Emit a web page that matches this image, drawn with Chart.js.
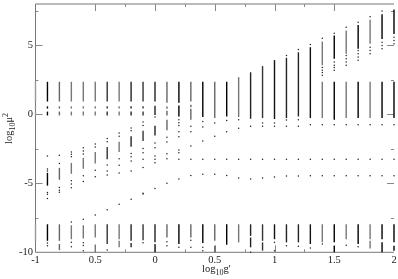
<!DOCTYPE html>
<html>
<head>
<meta charset="utf-8">
<script src="https://cdn.jsdelivr.net/npm/chart.js@4"></script>
<style>
  html, body { margin: 0; padding: 0; background: #fff; }
  canvas { display: block; }
</style>
</head>
<body>
<canvas id="massChart" width="398" height="279"></canvas>
<script>
// log10 g' of each column
const columnX = [-1, -0.9, -0.8, -0.7, -0.6, -0.5, -0.4, -0.3, -0.2, -0.1, 0, 0.1, 0.2, 0.3, 0.4, 0.5,
  0.6, 0.7, 0.8, 0.9, 1, 1.1, 1.2, 1.3, 1.4, 1.5, 1.6, 1.7, 1.8, 1.9, 2];

// solid stretches in each column, [low, high] in log10 mu^2
const bands = [
  [[0.93, 2.36], [0.42, 0.58], [-0.08, 0.2], [-9.17, -7.97]],
  [[0.93, 2.36], [0.42, 0.58], [-0.08, 0.2], [-5.17, -4.24], [-9.17, -7.97]],
  [[0.93, 2.36], [0.42, 0.58], [-0.08, 0.2], [-4.74, -3.88], [-9.17, -7.97], [-9.84, -9.4]],
  [[0.93, 2.36], [0.42, 0.58], [-0.08, 0.2], [-4.31, -3.52], [-9.05, -8.04]],
  [[0.93, 2.36], [0.42, 0.58], [-0.08, 0.2], [-3.95, -3.16], [-9.0, -8.04]],
  [[0.93, 2.36], [0.42, 0.58], [-0.08, 0.2], [-3.57, -2.73], [-8.93, -7.97], [-10, -9.43]],
  [[0.93, 2.36], [0.42, 0.58], [-0.08, 0.2], [-3.26, -2.37], [-9.4, -7.97]],
  [[0.93, 2.36], [0.42, 0.58], [-0.08, 0.2], [-2.73, -1.99], [-9.05, -7.97], [-9.64, -9.17]],
  [[0.93, 2.36], [0.42, 0.58], [-0.08, 0.2], [-2.35, -1.59], [-9.17, -7.97], [-9.64, -9.33]],
  [[0.93, 2.36], [0.42, 0.58], [-0.08, 0.2], [-1.94, -1.18], [-9.12, -7.97]],
  [[0.93, 2.36], [-0.05, 0.62], [-1.53, -0.82], [-9.28, -7.97], [-10, -9.4]],
  [[0.85, 2.36], [0.4, 0.57], [-0.08, 0.26], [-1.15, -0.39], [-8.93, -7.97]],
  [[0.85, 2.36], [-0.15, 0.64], [-9.4, -7.97]],
  [[0.93, 2.36], [0.52, 0.69], [-0.39, 0.4], [-8.93, -7.97]],
  [[-0.2, 2.36], [-9.33, -7.97]],
  [[-0.27, 2.36], [-9.17, -7.97], [-10, -9.52]],
  [[-0.15, 2.36], [-9.45, -7.97]],
  [[-0.2, 2.7], [-9.28, -7.97]],
  [[-0.32, 3.05], [-8.81, -7.97], [-9.64, -8.93]],
  [[-0.27, 3.5], [-9.17, -7.97], [-9.88, -9.28]],
  [[-0.34, 3.89], [-9.05, -7.97]],
  [[-0.27, 4.1], [-9.28, -7.97]],
  [[-0.15, 4.5], [-9.28, -7.97]],
  [[-0.27, 4.87], [-9.4, -7.97]],
  [[3.56, 5.28], [-0.27, 2.36], [-9.28, -7.97]],
  [[4.04, 5.71], [-0.39, 2.36], [-9.28, -7.97], [-10, -9.52]],
  [[4.39, 6.07], [-0.27, 2.36], [-9.05, -7.97]],
  [[4.75, 6.47], [-0.27, 2.36], [-9.4, -7.97]],
  [[5.11, 6.86], [-0.27, 2.36], [-9.05, -7.97], [-9.72, -9.17]],
  [[5.47, 7.26], [-0.27, 2.36], [-9.05, -7.97], [-10, -9.28]],
  [[5.83, 7.6], [-0.27, 2.36], [-9.28, -7.97], [-9.88, -9.52]]
];

// isolated points in each column
const dots = [
  [],
  [-3.02, -3.97, -4.1, -5.67, -5.8, -6.1, -9.33, -9.52],
  [-2.97, -3.57, -5.3, -5.5, -5.65],
  [-2.73, -2.9, -3.07, -4.81, -5.05, -5.32, -7.8, -9.28, -9.6],
  [-2.42, -2.65, -2.88, -4.45, -4.86, -7.61, -9.3, -9.5, -9.89],
  [-2.14, -2.37, -4.05, -4.53, -7.3],
  [-1.75, -1.99, -3.67, -4.1, -4.4, -6.92, -9.83],
  [-1.35, -1.59, -3.21, -3.69, -4.26, -6.51],
  [-0.99, -1.18, -2.83, -3.07, -3.38, -4.1, -6.15],
  [-0.56, -0.8, -2.47, -2.78, -3.26, -3.86, -5.72, -5.77, -9.3],
  [-0.2, -2.07, -2.42, -3.02, -3.26, -3.5, -5.37],
  [-1.66, -2.01, -2.85, -3.21, -5.0, -9.24, -9.52],
  [-0.4, -0.6, -0.8, -1.27, -1.63, -2.59, -2.78, -3.26, -4.69, -9.64],
  [-0.87, -1.27, -2.3, -3.26, -4.43, -9.12, -9.64],
  [-0.51, -0.91, -1.94, -3.26, -4.34, -9.64, -9.88],
  [-0.63, -1.58, -3.26, -4.34],
  [-0.44, -1.27, -3.26, -4.43],
  [-0.39, -1.01, -3.26, -4.62],
  [-0.87, -3.26, -4.69, -10],
  [-0.63, -0.87, -3.26, -4.62],
  [3.89, -0.63, -0.87, -3.26, -4.55, -9.28, -9.88],
  [4.27, -0.41, -0.87, -3.26, -4.46, -9.52],
  [4.7, -0.39, -0.87, -3.26, -4.46, -9.57],
  [5.06, -0.75, -3.26, -4.45, -9.69],
  [5.52, 3.39, 3.2, 3.03, 2.84, -0.75, -3.26, -4.45, -9.4],
  [5.88, 3.8, 3.56, 3.39, 3.2, -0.75, -3.26, -4.45],
  [6.31, 4.27, 4.03, 3.8, 3.56, -0.75, -3.26, -4.45, -9.48],
  [6.67, 4.63, 4.39, 4.15, 3.92, -0.75, -3.26, -4.45, -9.6],
  [7.07, 4.87, 4.63, 4.39, -0.75, -3.26, -4.45],
  [7.5, 5.23, 4.99, 4.75, -0.75, -3.26, -4.45],
  [5.59, 5.35, 5.11, -0.75, -3.26, -4.45]
];

// how dark each column came out in the scan
const columnShade = ['#999', '#000', '#666', '#777', '#777', '#777', '#333', '#777', '#222', '#333', '#222',
  '#666', '#000', '#666', '#000', '#666', '#000', '#777', '#222', '#333', '#111', '#222', '#222', '#111',
  '#777', '#000', '#777', '#000', '#777', '#000', '#000'];

const xTickLabels = ['-1', '0.5', '0', '0.5', '1', '1.5', '2'];
const yTickValues = [-10, -5, 0, 5];
const xMajorTicks = [-0.5, 0, 0.5, 1, 1.5];
const xMinorTicks = [-0.25, 0.25, 0.75, 1.25];
const yMajorTicks = [-5, 0, 5];
const yMinorTicks = [-7.5, -2.5, 2.5, 7.5];

const serif = '"Liberation Serif", serif';

const bandSets = columnX.flatMap((x, i) => bands[i].map(b => ({
  data: [{ x: x, y: b[0] }, { x: x, y: b[1] }],
  showLine: true,
  borderColor: columnShade[i],
  borderWidth: 1.4,
  pointRadius: 0,
  clip: false
})));

const dotSet = {
  data: columnX.flatMap((x, i) => dots[i].map(v => ({ x: x, y: v }))),
  pointRadius: 0.75,
  pointBorderWidth: 0,
  pointBackgroundColor: '#222',
  clip: false
};

// writes text with sub/superscript pieces, one after the other
function writeParts(ctx, parts, x, y, angle) {
  ctx.save();
  ctx.translate(x, y);
  ctx.rotate(angle);
  ctx.fillStyle = '#222';
  ctx.textBaseline = 'alphabetic';
  ctx.textAlign = 'left';
  let pos = 0;
  parts.forEach(p => {
    ctx.font = p[1] + 'px ' + serif;
    ctx.fillText(p[0], pos, p[2]);
    pos += ctx.measureText(p[0]).width;
  });
  ctx.restore();
}

const framePlugin = {
  id: 'frame',
  beforeDatasetsDraw(chart) {
    const ctx = chart.ctx, a = chart.chartArea;
    const sx = chart.scales.x, sy = chart.scales.y;
    ctx.save();
    ctx.strokeStyle = '#777';
    ctx.lineWidth = 1;
    ctx.beginPath();
    ctx.moveTo(a.left, a.top); ctx.lineTo(a.right, a.top);
    ctx.moveTo(a.left, a.bottom); ctx.lineTo(a.right, a.bottom);
    ctx.moveTo(a.left, a.top); ctx.lineTo(a.left, a.bottom);
    ctx.stroke();
    const xTick = (v, len) => {
      const px = Math.round(sx.getPixelForValue(v)) + 0.5;
      ctx.moveTo(px, a.top); ctx.lineTo(px, a.top + len);
      ctx.moveTo(px, a.bottom); ctx.lineTo(px, a.bottom - len);
    };
    const yTick = (v, len) => {
      const py = Math.round(sy.getPixelForValue(v)) + 0.5;
      ctx.moveTo(a.left, py); ctx.lineTo(a.left + len, py);
      ctx.moveTo(a.right, py); ctx.lineTo(a.right - len, py);
    };
    ctx.strokeStyle = '#888';
    ctx.beginPath();
    xMajorTicks.forEach(v => xTick(v, 7));
    xMinorTicks.forEach(v => xTick(v, 3));
    yMajorTicks.forEach(v => yTick(v, 7));
    yMinorTicks.forEach(v => yTick(v, 3));
    ctx.stroke();
    ctx.restore();
  },
  afterDraw(chart) {
    const ctx = chart.ctx;
    writeParts(ctx, [['log', 10.5, 0], ['10', 8, 3], ['g\'', 10.5, 0]], 202, 272, 0);
    writeParts(ctx, [['log', 10.5, 0], ['10', 8, 3], ['μ', 10.5, 0], ['2', 8, -4]], 12, 144, -Math.PI / 2);
  }
};

new Chart(document.getElementById('massChart'), {
  type: 'scatter',
  data: { datasets: bandSets.concat([dotSet]) },
  plugins: [framePlugin],
  options: {
    responsive: false,
    animation: false,
    events: [],
    layout: { padding: { top: 1.3, right: 2.5, left: 0, bottom: 0 } },
    plugins: { legend: { display: false }, tooltip: { enabled: false } },
    scales: {
      x: {
        type: 'linear',
        min: -1,
        max: 2,
        grid: { display: false, drawTicks: false },
        border: { display: false },
        ticks: {
          stepSize: 0.5,
          maxRotation: 0,
          autoSkip: false,
          padding: 1.5,
          color: '#222',
          font: { family: serif, size: 10.5 },
          callback: (v, i) => xTickLabels[i]
        },
        afterFit(scale) {
          scale.height = 26.7;
          scale.paddingLeft = 0;
          scale.paddingRight = 0;
        }
      },
      y: {
        type: 'linear',
        min: -10,
        max: 8,
        grid: { display: false, drawTicks: false },
        border: { display: false },
        afterBuildTicks(scale) {
          scale.ticks = yTickValues.map(v => ({ value: v }));
        },
        ticks: {
          padding: 2.5,
          autoSkip: false,
          color: '#222',
          font: { family: serif, size: 10.5 }
        },
        afterFit(scale) {
          scale.width = 35.5;
          scale.paddingTop = 0;
          scale.paddingBottom = 0;
        }
      }
    }
  }
});
</script>
</body>
</html>
